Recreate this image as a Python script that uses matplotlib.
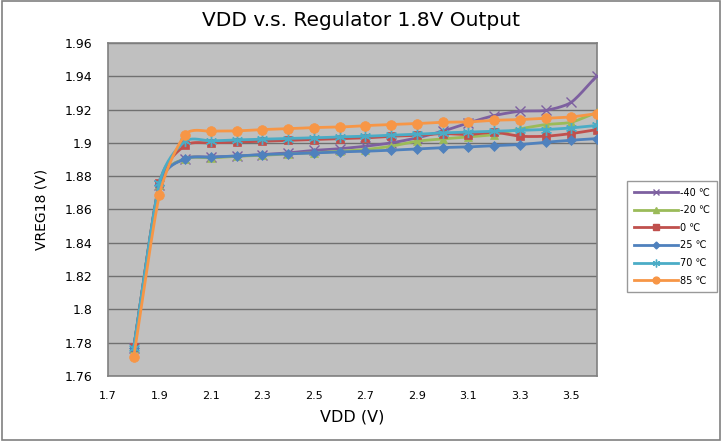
import matplotlib
matplotlib.use("Agg")
import matplotlib.pyplot as plt
import numpy as np
from matplotlib.patches import Rectangle
from matplotlib.lines import Line2D

plt.rcParams['font.family'] = ['DejaVu Sans']

# VDD sweep (V)
vdd = [1.8, 1.9, 2.0, 2.1, 2.2, 2.3, 2.4, 2.5, 2.6, 2.7, 2.8, 2.9, 3.0,
       3.1, 3.2, 3.3, 3.4, 3.5, 3.6]

# VREG18 (V) per temperature
vreg_m40 = [1.777, 1.875, 1.8905, 1.8915, 1.892, 1.893, 1.894, 1.8955, 1.8965,
            1.898, 1.900, 1.903, 1.907, 1.912, 1.9164, 1.919, 1.9195, 1.9244, 1.9404]
vreg_m20 = [1.777, 1.875, 1.8905, 1.891, 1.892, 1.8925, 1.8935, 1.894, 1.895,
            1.896, 1.898, 1.901, 1.9024, 1.9036, 1.905, 1.9084, 1.911, 1.9124, 1.9184]
vreg_0 = [1.7772, 1.876, 1.8985, 1.900, 1.9005, 1.901, 1.9015, 1.902, 1.9025,
          1.903, 1.904, 1.9045, 1.9056, 1.905, 1.9064, 1.904, 1.904, 1.9056, 1.908]
vreg_25 = [1.777, 1.8745, 1.8904, 1.8914, 1.8922, 1.893, 1.8934, 1.894, 1.8946,
           1.895, 1.8956, 1.8964, 1.8972, 1.8976, 1.8984, 1.899, 1.9004, 1.9016, 1.9026]
vreg_70 = [1.777, 1.876, 1.901, 1.9012, 1.9018, 1.9022, 1.9026, 1.903, 1.9036,
           1.904, 1.9046, 1.9052, 1.906, 1.9065, 1.907, 1.9075, 1.908, 1.909, 1.9105]
vreg_85 = [1.7715, 1.869, 1.905, 1.907, 1.9072, 1.908, 1.9085, 1.9092, 1.9095,
           1.9104, 1.911, 1.9116, 1.9124, 1.9126, 1.9136, 1.914, 1.9148, 1.9156, 1.9176]

labels = ["-40 ℃", "-20 ℃", "0 ℃", "25 ℃", "70 ℃", "85 ℃"]
series = [vreg_m40, vreg_m20, vreg_0, vreg_25, vreg_70, vreg_85]
colors = ["#7D60A0", "#9BBB59", "#C0504D", "#4F81BD", "#4BACC6", "#F79646"]
markers = ["x", "^", "s", "D", (6, 2, 0), "o"]
msizes = [7, 6, 6, 5, 8, 7]


def smooth(x, y, n=20, k=0.35):
    # cubic Hermite curve through the points, tangents damped (Excel-ish "smoothed line")
    x = np.asarray(x, float)
    y = np.asarray(y, float)
    px = np.concatenate([[2 * x[0] - x[1]], x, [2 * x[-1] - x[-2]]])
    py = np.concatenate([[2 * y[0] - y[1]], y, [2 * y[-1] - y[-2]]])
    xs, ys = [], []
    t = np.linspace(0, 1, n, endpoint=False)
    h00 = 2 * t ** 3 - 3 * t ** 2 + 1
    h10 = t ** 3 - 2 * t ** 2 + t
    h01 = -2 * t ** 3 + 3 * t ** 2
    h11 = t ** 3 - t ** 2
    for i in range(1, len(px) - 2):
        for p, out in ((px, xs), (py, ys)):
            m1 = k * (p[i + 1] - p[i - 1])
            m2 = k * (p[i + 2] - p[i])
            out.append(h00 * p[i] + h10 * m1 + h01 * p[i + 1] + h11 * m2)
    xs.append([x[-1]])
    ys.append([y[-1]])
    return np.concatenate(xs), np.concatenate(ys)


fig = plt.figure(figsize=(7.22, 4.41), dpi=100)
fig.patches.append(Rectangle((0.003, 0.003), 0.994, 0.994, transform=fig.transFigure,
                             fill=False, edgecolor="#808080", linewidth=1.2))
ax = fig.add_axes([0.1496, 0.1474, 0.6773, 0.7551])
ax.set_facecolor("#C0C0C0")

handles = []
for y, lab, c, m, ms in zip(series, labels, colors, markers, msizes):
    sx, sy = smooth(vdd, y)
    ax.plot(sx, sy, color=c, linewidth=2.0, zorder=3)
    ax.plot(vdd, y, linestyle="none", marker=m, color=c, markersize=ms,
            markeredgewidth=1.0 if m in ("x", (6, 2, 0)) else 0.5, zorder=3)
    handles.append(Line2D([], [], color=c, linewidth=2.0, marker=m,
                          markersize=ms * 0.7, label=lab))

ax.set_xlim(1.7, 3.6)
ax.set_ylim(1.76, 1.96)
ax.set_xticks(np.arange(1.7, 3.51, 0.2))
ax.set_yticks(np.arange(1.76, 1.961, 0.02))
ax.xaxis.set_major_formatter(matplotlib.ticker.FuncFormatter(lambda v, p: "%g" % round(v, 2)))
ax.yaxis.set_major_formatter(matplotlib.ticker.FuncFormatter(lambda v, p: "%g" % round(v, 2)))
ax.tick_params(length=0)
ax.tick_params(axis="x", labelsize=8, pad=11)
ax.tick_params(axis="y", labelsize=9, pad=11)
ax.grid(axis="y", color="#707070", linewidth=1.0)
ax.set_axisbelow(True)
for s in ax.spines.values():
    s.set_color("#808080")
    s.set_linewidth(1.2)

fig.text(0.5, 1 - 20 / 441, "VDD v.s. Regulator 1.8V Output", fontsize=14.5,
         ha="center", va="center")
ax.set_xlabel("VDD (V)", fontsize=11.5, labelpad=6)
ax.set_ylabel("VREG18 (V)", fontsize=10, labelpad=12)

leg = fig.legend(handles=handles, loc="upper left", bbox_to_anchor=(0.868, 0.59),
                 fontsize=7, frameon=True, fancybox=False, handlelength=4.6,
                 borderpad=0.7, labelspacing=0.78, handletextpad=0.2,
                 borderaxespad=0)
leg.get_frame().set_edgecolor("#808080")
leg.get_frame().set_linewidth(1.0)

fig.savefig("out.png", dpi=100)
